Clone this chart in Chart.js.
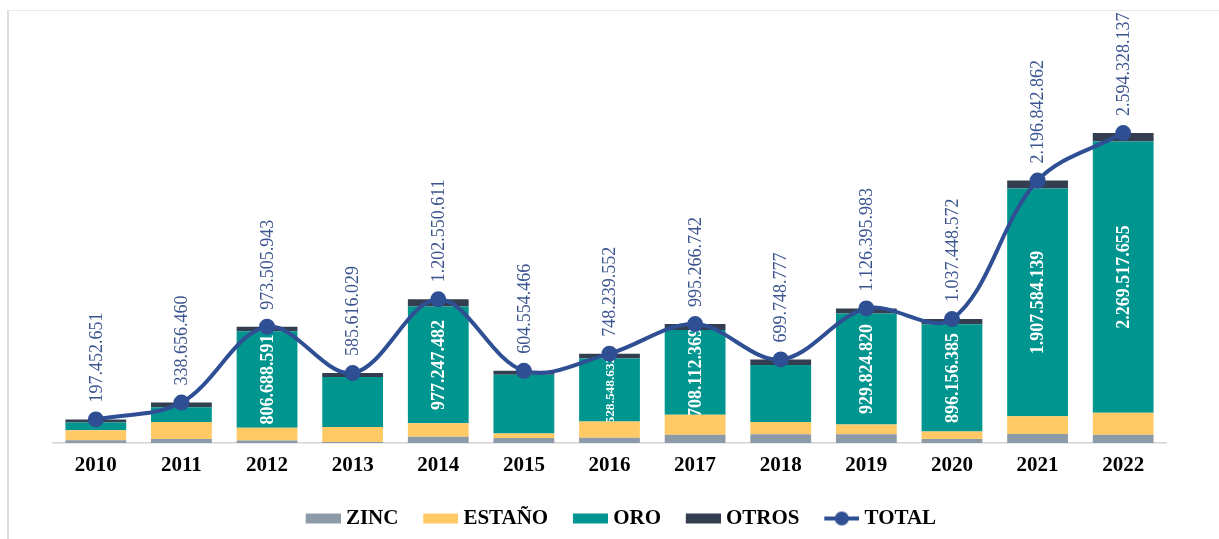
<!DOCTYPE html>
<html><head><meta charset="utf-8">
<script src="https://cdn.jsdelivr.net/npm/chart.js@4.4.1/dist/chart.umd.min.js"></script>
<style>
html,body{margin:0;padding:0;background:#fff;}
#wrap{position:relative;width:1219px;height:539px;overflow:hidden;background:#fff;}
#frame{position:absolute;left:7px;top:10px;width:1300px;height:600px;border-left:2px solid #dedede;border-top:1px solid #e8e8e8;}
canvas{position:absolute;left:0;top:0;}
</style></head><body>
<div id="wrap"><div id="frame"></div><canvas id="c" width="1219" height="539"></canvas></div>
<script>
// ---- data ----
const years = ['2010','2011','2012','2013','2014','2015','2016','2017','2018','2019','2020','2021','2022'];
const zinc   = [22e6, 33e6, 20e6, 8e6, 53e6, 42e6, 45e6, 70e6, 73e6, 73e6, 33e6, 75e6, 70e6];
const estano = [85e6, 142e6, 108e6, 125e6, 112e6, 37e6, 134e6, 167e6, 103e6, 81e6, 64e6, 148e6, 184e6];
const oro    = [65e6, 125e6, 806688591, 419.6e6, 977247482, 492.5e6, 528548632, 708112369, 476.75e6, 929824820, 896156385, 1907584139, 2269517655];
const otros  = [25.5e6, 38.7e6, 38.8e6, 33e6, 60.3e6, 33e6, 40.7e6, 50.2e6, 47e6, 42.6e6, 44.3e6, 66.3e6, 70.8e6];
const total  = [197452651, 338656460, 973505943, 585616029, 1202550611, 604554466, 748239552, 995266742, 699748777, 1126395983, 1037448572, 2196842862, 2594328137];
const oroLabels = [null, null, '806.688.591', null, '977.247.482', null, '528.548.632', '708.112.369', null, '929.824.820', '896.156.385', '1.907.584.139', '2.269.517.655'];
const totalLabels = ['197.452.651','338.656.460','973.505.943','585.616.029','1.202.550.611','604.554.466','748.239.552','995.266.742','699.748.777','1.126.395.983','1.037.448.572','2.196.842.862','2.594.328.137'];

const C_ZINC = '#8d9aa8', C_EST = '#ffca66', C_ORO = '#00968f', C_OTR = '#333f50', C_TOT = '#2f4f94', C_TXT = '#3c5590';
const SERIF = '"Liberation Serif", "Times New Roman", serif';

function makeIcon(type, color) {
  const c = document.createElement('canvas'); c.width = 40; c.height = 16;
  const g = c.getContext('2d');
  if (type === 'bar') { g.fillStyle = color; g.fillRect(5, 3, 35, 10); }
  else {
    g.strokeStyle = color; g.lineWidth = 4; g.beginPath(); g.moveTo(5, 8); g.lineTo(40, 8); g.stroke();
    g.beginPath(); g.arc(22.5, 8, 7, 0, Math.PI * 2); g.fillStyle = color; g.fill();
  }
  return c;
}
const icons = [makeIcon('bar', C_ZINC), makeIcon('bar', C_EST), makeIcon('bar', C_ORO), makeIcon('bar', C_OTR), makeIcon('line', C_TOT)];

const labelPlugin = {
  id: 'valueLabels',
  afterDatasetDraw(chart, args) {
    if (args.index !== 2) return;
    const ctx = chart.ctx;
    args.meta.data.forEach((bar, i) => {
      const txt = oroLabels[i]; if (!txt) return;
      const top = Math.min(bar.y, bar.base), bottom = Math.max(bar.y, bar.base);
      const h = bottom - top;
      let size = 18;
      ctx.save();
      ctx.font = 'bold ' + size + 'px ' + SERIF;
      const w = ctx.measureText(txt).width;
      if (w > h + 8) { size = size * (h + 4) / w; ctx.font = 'bold ' + size + 'px ' + SERIF; }
      ctx.translate(bar.x, (top + bottom) / 2);
      ctx.rotate(-Math.PI / 2);
      ctx.fillStyle = '#ffffff'; ctx.textAlign = 'center'; ctx.textBaseline = 'middle';
      ctx.fillText(txt, 0, 1);
      ctx.restore();
    });
  },
  afterDatasetsDraw(chart) {
    const ctx = chart.ctx;
    chart.getDatasetMeta(4).data.forEach((pt, i) => {
      ctx.save();
      ctx.font = '18px ' + SERIF; ctx.fillStyle = C_TXT;
      ctx.translate(pt.x + 1, pt.y - 17);
      ctx.rotate(-Math.PI / 2);
      ctx.textAlign = 'left'; ctx.textBaseline = 'middle';
      ctx.fillText(totalLabels[i], 0, 0);
      ctx.restore();
    });
  }
};

const barCommon = { type: 'bar', stack: 'm', order: 1, barPercentage: 0.71, categoryPercentage: 1, borderWidth: 0 };
new Chart(document.getElementById('c'), {
  data: {
    labels: years,
    datasets: [
      Object.assign({ label: 'ZINC', data: zinc, backgroundColor: C_ZINC }, barCommon),
      Object.assign({ label: 'ESTAÑO', data: estano, backgroundColor: C_EST }, barCommon),
      Object.assign({ label: 'ORO', data: oro, backgroundColor: C_ORO }, barCommon),
      Object.assign({ label: 'OTROS', data: otros, backgroundColor: C_OTR }, barCommon),
      { type: 'line', label: 'TOTAL', data: total, stack: 't', order: 0, borderColor: C_TOT, backgroundColor: C_TOT,
        borderWidth: 4, tension: 0.35, pointRadius: 8, pointHoverRadius: 8, pointBorderWidth: 0, pointBackgroundColor: C_TOT, fill: false }
    ]
  },
  options: {
    responsive: false, animation: false, devicePixelRatio: 1,
    layout: { padding: { left: 53, right: 30, top: 13, bottom: 0 } },
    plugins: {
      tooltip: { enabled: false },
      legend: {
        position: 'bottom',
        labels: {
          usePointStyle: true, pointStyleWidth: 29.5, padding: 25, color: '#000',
          font: { family: SERIF, size: 21, weight: 'bold' },
          generateLabels: chart => chart.data.datasets.map((ds, i) => ({
            text: ds.label, pointStyle: icons[i], fillStyle: 'rgba(0,0,0,0)', strokeStyle: 'rgba(0,0,0,0)',
            lineWidth: 0, hidden: false, datasetIndex: i, fontColor: '#000'
          }))
        }
      }
    },
    scales: {
      x: {
        stacked: true, offset: true,
        grid: { display: false, drawTicks: false },
        border: { display: true, color: '#d4d4d4', width: 1.5 },
        ticks: { color: '#000', padding: 10, font: { family: SERIF, size: 21, weight: 'bold' } },
        afterFit: s => { s.height = 40; }
      },
      y: {
        stacked: true, min: 0, max: 3.6e9, position: 'right',
        grid: { display: false, drawTicks: false }, border: { display: false },
        ticks: { display: false },
        afterFit: s => { s.width = 23; }
      }
    }
  },
  plugins: [labelPlugin]
});
</script>
</body></html>
